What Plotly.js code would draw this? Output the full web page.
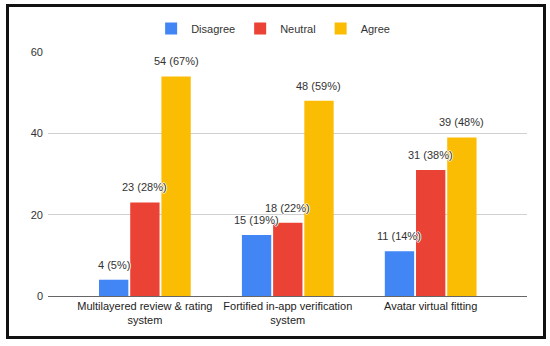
<!DOCTYPE html>
<html>
<head>
<meta charset="utf-8">
<script src="https://cdn.plot.ly/plotly-3.0.1.min.js"></script>
<style>
  html, body { margin: 0; padding: 0; background: #fff; }
  #chart { position: absolute; left: 0; top: 0; width: 550px; height: 346px; }
  #frame { position: absolute; left: 6px; top: 4px; width: 540px; height: 335px;
           box-sizing: border-box; border: 3px solid #111; pointer-events: none; }
</style>
</head>
<body>
<div id="chart"></div>
<div id="frame"></div>
<script>
const categories = [
  "Multilayered review & rating<br>system",
  "Fortified in-app verification<br>system",
  "Avatar virtual fitting"
];
const seriesNames = ["Disagree", "Neutral", "Agree"];
const disagree = [4, 15, 11];
const neutral = [23, 18, 31];
const agree = [54, 48, 39];
const disagreePct = [5, 19, 14];
const neutralPct = [28, 22, 38];
const agreePct = [67, 59, 48];
const yTicks = [0, 20, 40, 60];

const values = [disagree, neutral, agree];
const pcts = [disagreePct, neutralPct, agreePct];
const colors = ["#4285F4", "#EA4335", "#FBBC04"];

const bargap = 0.345;
const slot = (1 - bargap) / 3;

const traces = values.map((v, i) => ({
  type: "bar",
  name: seriesNames[i],
  x: categories.map((c, j) => j),
  y: v,
  marker: { color: colors[i] },
  hoverinfo: "skip"
}));

const annotations = [];
values.forEach((v, i) => {
  v.forEach((val, j) => {
    annotations.push({
      x: j + (i - 1) * slot,
      y: val,
      xref: "x", yref: "y",
      text: val + " (" + pcts[i][j] + "%)",
      showarrow: false,
      yanchor: "middle",
      yshift: 15,
      font: { family: "Liberation Sans, Arial, sans-serif", size: 11, color: "#333",
              shadow: "1px 0 0 #fff, -1px 0 0 #fff, 0 1px 0 #fff, 0 -1px 0 #fff" }
    });
  });
});

const layout = {
  width: 550, height: 346,
  margin: { l: 48, r: 23, t: 52, b: 50 },
  paper_bgcolor: "#fff", plot_bgcolor: "#fff",
  barmode: "group",
  bargap: bargap,
  bargroupgap: 0.06,
  font: { family: "Liberation Sans, Arial, sans-serif", size: 11, color: "#333" },
  xaxis: {
    range: [-0.678, 2.674],
    tickmode: "array",
    tickvals: categories.map((c, j) => j),
    ticktext: categories,
    showgrid: false,
    zeroline: false,
    showline: false,
    ticks: "",
    ticklabelstandoff: 2,
    tickfont: { size: 11, color: "#222" }
  },
  yaxis: {
    range: [0, 60],
    tickmode: "array",
    tickvals: yTicks,
    showgrid: true,
    gridcolor: "#d0d0d0",
    gridwidth: 1,
    zeroline: true,
    zerolinecolor: "#666",
    zerolinewidth: 1,
    showline: false,
    ticks: "",
    ticklabelstandoff: 4,
    tickfont: { size: 11, color: "#333" }
  },
  showlegend: true,
  legend: {
    orientation: "h",
    x: 0.47, xanchor: "center",
    y: 1.096, yanchor: "middle",
    font: { size: 11, color: "#333" },
    itemclick: false
  },
  annotations: annotations
};

Plotly.newPlot("chart", traces, layout, { displayModeBar: false, staticPlot: true });
</script>
</body>
</html>
